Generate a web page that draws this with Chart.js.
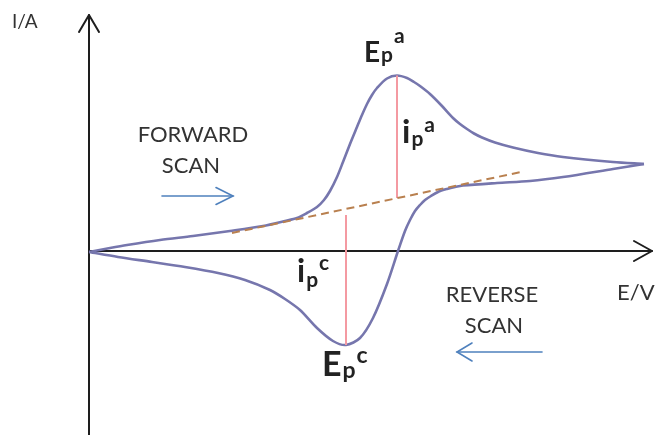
<!DOCTYPE html>
<html>
<head>
<meta charset="utf-8">
<script src="https://cdn.jsdelivr.net/npm/chart.js@4.4.1/dist/chart.umd.min.js"></script>
<style>
  html, body { margin: 0; padding: 0; background: #ffffff; }
  #wrap { width: 657px; height: 435px; }
</style>
</head>
<body>
<div id="wrap"><canvas id="cv" width="657" height="435"></canvas></div>
<script>
// Cyclic voltammogram: potential E (V) vs current I (µA)
const forwardE = [0.000, 0.021, 0.038, 0.071, 0.104, 0.141, 0.174, 0.196, 0.208, 0.218, 0.228, 0.235, 0.241, 0.248, 0.254, 0.261, 0.268, 0.273, 0.278, 0.283, 0.288, 0.298, 0.308, 0.318, 0.325, 0.331, 0.341, 0.353, 0.364, 0.371, 0.378, 0.385, 0.393, 0.406, 0.424, 0.449, 0.474, 0.524, 0.555];
const forwardI = [-0.1, 0.3, 0.6, 1.1, 1.5, 2.0, 2.5, 3.0, 3.3, 3.8, 4.4, 5.1, 6.0, 7.4, 8.9, 10.7, 12.4, 13.6, 14.7, 15.6, 16.3, 17.25, 17.55, 17.3, 16.9, 16.5, 15.7, 14.5, 13.3, 12.7, 12.2, 11.75, 11.35, 10.85, 10.35, 9.8, 9.4, 8.9, 8.7];

const reverseE = [0.000, 0.029, 0.063, 0.096, 0.129, 0.156, 0.181, 0.196, 0.211, 0.228, 0.244, 0.257, 0.271, 0.284, 0.298, 0.309, 0.316, 0.321, 0.326, 0.331, 0.336, 0.342, 0.349, 0.358, 0.366, 0.374, 0.408, 0.441, 0.474, 0.524, 0.555];
const reverseI = [-0.1, -0.6, -1.1, -1.6, -2.2, -2.9, -3.9, -4.8, -5.9, -7.7, -9.0, -9.4, -8.7, -6.7, -3.3, 0.0, 2.0, 3.1, 4.0, 4.6, 5.1, 5.5, 5.9, 6.2, 6.4, 6.55, 6.8, 7.0, 7.4, 8.2, 8.7];

// extrapolated capacitive baseline
const baselineE = [0.143, 0.432];
const baselineI = [1.8, 7.9];

// peak current markers (vertical segments)
const anodicMarkerE = [0.308, 0.308];
const anodicMarkerI = [17.55, 5.3];
const cathodicMarkerE = [0.257, 0.257];
const cathodicMarkerI = [-9.4, 3.6];

const pts = (xs, ys) => xs.map((x, i) => ({ x: x, y: ys[i] }));

const CURVE = '#7676ad';
const PEAKLINE = '#f49aa2';
const BASE = '#b9804f';
const SCAN = '#4f81bd';
const TEXT = '#333333';
const BOLD = '#222222';

function arrow(ctx, x1, y1, x2, y2, head, spread) {
  ctx.beginPath();
  ctx.moveTo(x1, y1);
  ctx.lineTo(x2, y2);
  ctx.stroke();
  const a = Math.atan2(y2 - y1, x2 - x1);
  ctx.beginPath();
  ctx.moveTo(x2 - head * Math.cos(a) + spread * Math.sin(a), y2 - head * Math.sin(a) - spread * Math.cos(a));
  ctx.lineTo(x2, y2);
  ctx.lineTo(x2 - head * Math.cos(a) - spread * Math.sin(a), y2 - head * Math.sin(a) + spread * Math.cos(a));
  ctx.stroke();
}

function scripted(ctx, main, sub, sup, x, y, mainSize, smallSize, subDrop, supRise, supGap) {
  ctx.textAlign = 'left';
  ctx.textBaseline = 'alphabetic';
  ctx.font = 'bold ' + mainSize + 'px Lato, "Open Sans", sans-serif';
  ctx.fillText(main, x, y);
  const w = ctx.measureText(main).width;
  ctx.font = 'bold ' + smallSize + 'px Lato, "Open Sans", sans-serif';
  ctx.fillText(sub, x + w + 1, y + subDrop);
  const ws = ctx.measureText(sub).width;
  ctx.fillText(sup, x + w + ws + supGap, y - supRise);
}

const axesPlugin = {
  id: 'cvAxes',
  beforeDatasetsDraw(chart) {
    const { ctx, scales: { x, y } } = chart;
    const ox = x.getPixelForValue(0);
    const oy = y.getPixelForValue(0);
    ctx.save();
    ctx.strokeStyle = '#1e1e1e';
    ctx.lineWidth = 2;
    ctx.lineCap = 'round';
    ctx.lineJoin = 'round';
    // current axis (vertical) with arrow head
    arrow(ctx, ox, chart.height, ox, 15, 17, 10);
    // potential axis (horizontal) with arrow head
    arrow(ctx, ox, oy, 652, oy, 18, 10);
    ctx.restore();
  },
  afterDatasetsDraw(chart) {
    const { ctx } = chart;
    ctx.save();
    // scan direction arrows
    ctx.strokeStyle = SCAN;
    ctx.lineWidth = 1.6;
    ctx.lineCap = 'round';
    arrow(ctx, 162, 196, 233, 196, 17, 8.5);
    arrow(ctx, 542, 352, 457, 352, 15, 9);

    ctx.fillStyle = TEXT;
    ctx.textBaseline = 'alphabetic';
    ctx.font = '19px Lato, "Open Sans", sans-serif';
    ctx.textAlign = 'left';
    ctx.fillText('I/A', 12, 28);
    ctx.font = '22px Lato, "Open Sans", sans-serif';
    ctx.fillText('E/V', 617, 300);
    ctx.textAlign = 'center';
    ctx.fillText('FORWARD', 193, 142);
    ctx.fillText('SCAN', 191, 173);
    ctx.fillText('REVERSE', 492, 302);
    ctx.fillText('SCAN', 494, 333);

    ctx.fillStyle = BOLD;
    scripted(ctx, 'E', 'p', 'a', 364, 62, 28, 21, 0, 19, 2);
    scripted(ctx, 'i', 'p', 'a', 402, 143, 33, 21, 3, 11, 2);
    scripted(ctx, 'i', 'p', 'c', 297, 282, 32, 21, 5, 12, 2);
    scripted(ctx, 'E', 'p', 'c', 322, 376, 34, 23, 2, 13, 2);
    ctx.restore();
  }
};

const curveStyle = { showLine: true, borderColor: CURVE, borderWidth: 2.6, pointRadius: 0, tension: 0.3 };

new Chart(document.getElementById('cv'), {
  type: 'scatter',
  data: {
    datasets: [
      { data: pts(baselineE, baselineI), showLine: true, borderColor: BASE, borderWidth: 2, borderDash: [8, 5], pointRadius: 0 },
      { data: pts(anodicMarkerE, anodicMarkerI), showLine: true, borderColor: PEAKLINE, borderWidth: 2, pointRadius: 0 },
      { data: pts(cathodicMarkerE, cathodicMarkerI), showLine: true, borderColor: PEAKLINE, borderWidth: 2, pointRadius: 0 },
      Object.assign({ data: pts(forwardE, forwardI) }, curveStyle),
      Object.assign({ data: pts(reverseE, reverseI) }, curveStyle)
    ]
  },
  options: {
    responsive: false,
    animation: false,
    devicePixelRatio: 1,
    layout: { padding: 0 },
    plugins: { legend: { display: false }, tooltip: { enabled: false } },
    scales: {
      x: { type: 'linear', display: false, min: -0.089, max: 0.568 },
      y: { type: 'linear', display: false, min: -18.4, max: 25.1 }
    }
  },
  plugins: [axesPlugin]
});
</script>
</body>
</html>
